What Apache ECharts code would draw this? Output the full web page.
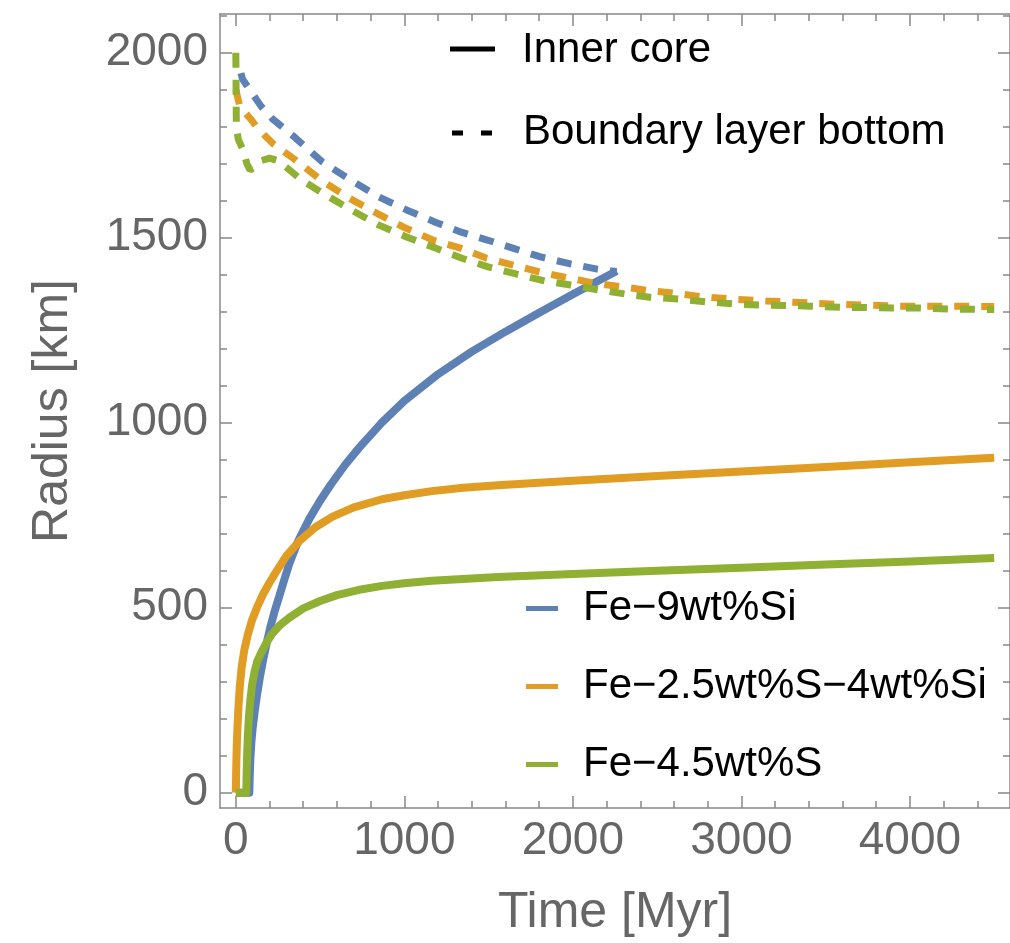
<!DOCTYPE html>
<html>
<head>
<meta charset="utf-8">
<script src="https://cdn.jsdelivr.net/npm/echarts@6/dist/echarts.min.js"></script>
<style>
html,body{margin:0;padding:0;background:#fff;}
#chart{width:1010px;height:943px;}
</style>
</head>
<body>
<div id="chart"></div>
<script>
// ---- data (Time [Myr], Radius [km]) ----
const seriesNames = ['Fe\u22129wt%Si', 'Fe\u22122.5wt%S\u22124wt%Si', 'Fe\u22124.5wt%S'];
const colors = ['#5E81B5', '#E19C24', '#8FB032'];

// Inner core radius
const tInnerSi   = [0, 80, 82, 86, 92, 100, 112, 126, 142, 159, 181, 205, 230, 249, 285, 318, 370, 436, 500, 564, 650, 731, 866, 1000, 1200, 1400, 1600, 1800, 2000, 2260];
const rInnerSi   = [0, 0, 40, 90, 135, 175, 220, 265, 310, 352, 400, 448, 490, 518, 572, 620, 680, 740, 789, 833, 887, 932, 1000, 1059, 1131, 1192, 1246, 1297, 1347, 1410];
const tInnerSSi  = [0, 2, 5, 10, 16, 24, 35, 50, 70, 95, 125, 160, 200, 250, 300, 377, 474, 574, 700, 868, 1000, 1163, 1350, 1556, 2000, 2500, 3000, 3500, 4000, 4500];
const rInnerSSi  = [0, 60, 120, 180, 235, 290, 340, 385, 425, 465, 500, 535, 568, 605, 640, 680, 718, 746, 771, 793, 804, 815, 824, 831, 843, 856, 868, 880, 893, 905];
const tInnerS    = [0, 62, 64, 67, 71, 77, 85, 96, 110, 127, 150, 181, 216, 260, 318, 400, 500, 600, 750, 868, 1000, 1163, 1556, 2000, 2500, 3000, 3500, 4000, 4500];
const rInnerS    = [0, 0, 50, 100, 150, 200, 245, 290, 325, 355, 378, 405, 430, 452, 473, 498, 518, 534, 550, 559, 566, 573, 583, 591, 600, 608, 617, 625, 634];

// Boundary layer bottom radius
const tBlSi  = [30, 40, 90, 150, 220, 348, 513, 684, 849, 1013, 1184, 1338, 1497, 1662, 1809, 1986, 2145, 2260];
const rBlSi  = [1945, 1928, 1895, 1855, 1820, 1772, 1705, 1655, 1610, 1575, 1542, 1515, 1493, 1469, 1448, 1429, 1415, 1408];
const tBlSSi = [0, 24, 93, 130, 218, 348, 507, 672, 837, 1007, 1173, 1332, 1485, 1644, 1821, 1980, 2127, 2310, 2469, 2605, 2775, 2952, 3147, 3294, 3430, 3571, 3736, 3925, 4207, 4500];
const rBlSSi = [1900, 1854, 1818, 1795, 1755, 1712, 1655, 1607, 1566, 1526, 1493, 1472, 1445, 1426, 1405, 1391, 1377, 1366, 1356, 1350, 1340, 1334, 1329, 1326, 1323, 1320, 1318, 1315, 1315, 1314];
const tBlS   = [0, 3, 15, 45, 65, 85, 110, 150, 200, 250, 300, 390, 513, 684, 849, 1013, 1184, 1338, 1497, 1662, 1833, 1986, 2163, 2322, 2457, 2628, 2811, 2988, 3135, 3412, 3600, 3895, 4060, 4225, 4500];
const rBlS   = [2000, 1800, 1765, 1735, 1700, 1683, 1690, 1708, 1715, 1708, 1690, 1656, 1621, 1575, 1534, 1502, 1472, 1445, 1421, 1402, 1383, 1372, 1358, 1347, 1339, 1334, 1326, 1320, 1318, 1315, 1312, 1310, 1310, 1307, 1306];

// axis ticks
const xMajorTicks = [0, 1000, 2000, 3000, 4000];
const xMinorTicks = [0, 200, 400, 600, 800, 1000, 1200, 1400, 1600, 1800, 2000, 2200, 2400, 2600, 2800, 3000, 3200, 3400, 3600, 3800, 4000, 4200, 4400];
const yMajorTicks = [0, 500, 1000, 1500, 2000];
const yMinorTicks = [0, 100, 200, 300, 400, 500, 600, 700, 800, 900, 1000, 1100, 1200, 1300, 1400, 1500, 1600, 1700, 1800, 1900, 2000, 2100];
const xLabel = 'Time [Myr]';
const yLabel = 'Radius [km]';
const styleLegend = ['Inner core', 'Boundary layer bottom'];

// ---- build ----
const pairs = (t, r) => t.map((v, i) => [v, r[i]]);
const FONT = 'Liberation Sans, Arial, Helvetica, sans-serif';
const AX = '#888';
const X_MIN = -94, X_MAX = 4594, Y_MIN = -41.4, Y_MAX = 2104.6;
const plain = v => String(Math.round(v));

function xAx(pos, major, labels) {
  return {
    type: 'value', position: pos, min: X_MIN, max: X_MAX,
    axisLine: { show: !major, onZero: false, lineStyle: { color: AX, width: 1.5 } },
    splitLine: { show: false },
    axisTick: { show: true, inside: true, length: major ? 12 : 7, customValues: major ? xMajorTicks : xMinorTicks, lineStyle: { color: AX, width: 1.5 } },
    axisLabel: labels ? { show: true, customValues: xMajorTicks, formatter: plain, color: '#666', fontFamily: FONT, fontSize: 46, margin: 10 } : { show: false },
    name: labels ? xLabel : '', nameLocation: 'middle', nameGap: 80,
    nameTextStyle: { color: '#666', fontFamily: FONT, fontSize: 50 }
  };
}
function yAx(pos, major, labels) {
  return {
    type: 'value', position: pos, min: Y_MIN, max: Y_MAX,
    axisLine: { show: !major, onZero: false, lineStyle: { color: AX, width: 1.5 } },
    splitLine: { show: false },
    axisTick: { show: true, inside: true, length: major ? 12 : 7, customValues: major ? yMajorTicks : yMinorTicks, lineStyle: { color: AX, width: 1.5 } },
    axisLabel: labels ? { show: true, customValues: yMajorTicks, formatter: plain, color: '#666', fontFamily: FONT, fontSize: 46, margin: 12 } : { show: false },
    name: labels ? yLabel : '', nameLocation: 'middle', nameGap: 142,
    nameTextStyle: { color: '#666', fontFamily: FONT, fontSize: 50 }
  };
}

const solidData = [pairs(tInnerSi, rInnerSi), pairs(tInnerSSi, rInnerSSi), pairs(tInnerS, rInnerS)];
const dashData = [pairs(tBlSi, rBlSi), pairs(tBlSSi, rBlSSi), pairs(tBlS, rBlS)];
const series = [];
for (let i = 0; i < 3; i++) {
  series.push({
    name: seriesNames[i], type: 'line', xAxisIndex: 0, yAxisIndex: 0,
    data: solidData[i], showSymbol: false, symbol: 'none', smooth: false, animation: false,
    itemStyle: { color: colors[i] },
    lineStyle: { color: colors[i], width: 8, join: 'round' }
  });
}
for (let i = 0; i < 3; i++) {
  series.push({
    name: seriesNames[i], type: 'line', xAxisIndex: 0, yAxisIndex: 0,
    data: dashData[i], showSymbol: false, symbol: 'none', smooth: false, animation: false,
    itemStyle: { color: colors[i] },
    lineStyle: { color: colors[i], width: 7, type: [15, 12], cap: 'butt' }
  });
}

const chart = echarts.init(document.getElementById('chart'), null, { renderer: 'canvas' });
chart.setOption({
  animation: false,
  backgroundColor: '#fff',
  grid: { left: 220, top: 14, width: 796, height: 794, containLabel: false },
  xAxis: [xAx('bottom', false, true), xAx('bottom', true, false), xAx('top', false, false), xAx('top', true, false)],
  yAxis: [yAx('left', false, true), yAx('left', true, false), yAx('right', false, false), yAx('right', true, false)],
  legend: {
    data: seriesNames, orient: 'vertical', left: 521, top: 582,
    icon: 'rect', itemWidth: 32, itemHeight: 5, itemGap: 35,
    selectedMode: false,
    textStyle: { color: '#000', fontFamily: FONT, fontSize: 42, lineHeight: 43, padding: [0, 0, 0, 20] }
  },
  graphic: [
    { type: 'line', shape: { x1: 450, y1: 49, x2: 495, y2: 49 }, style: { stroke: '#000', lineWidth: 5 } },
    { type: 'text', x: 522, y: 50, style: { text: styleLegend[0], fill: '#000', font: '42px ' + FONT, textVerticalAlign: 'middle', verticalAlign: 'middle' } },
    { type: 'line', shape: { x1: 452, y1: 133, x2: 493, y2: 133 }, style: { stroke: '#000', lineWidth: 5, lineDash: [11, 18] } },
    { type: 'text', x: 523, y: 132, style: { text: styleLegend[1], fill: '#000', font: '42px ' + FONT, textVerticalAlign: 'middle', verticalAlign: 'middle' } }
  ],
  series: series
});
</script>
</body>
</html>
